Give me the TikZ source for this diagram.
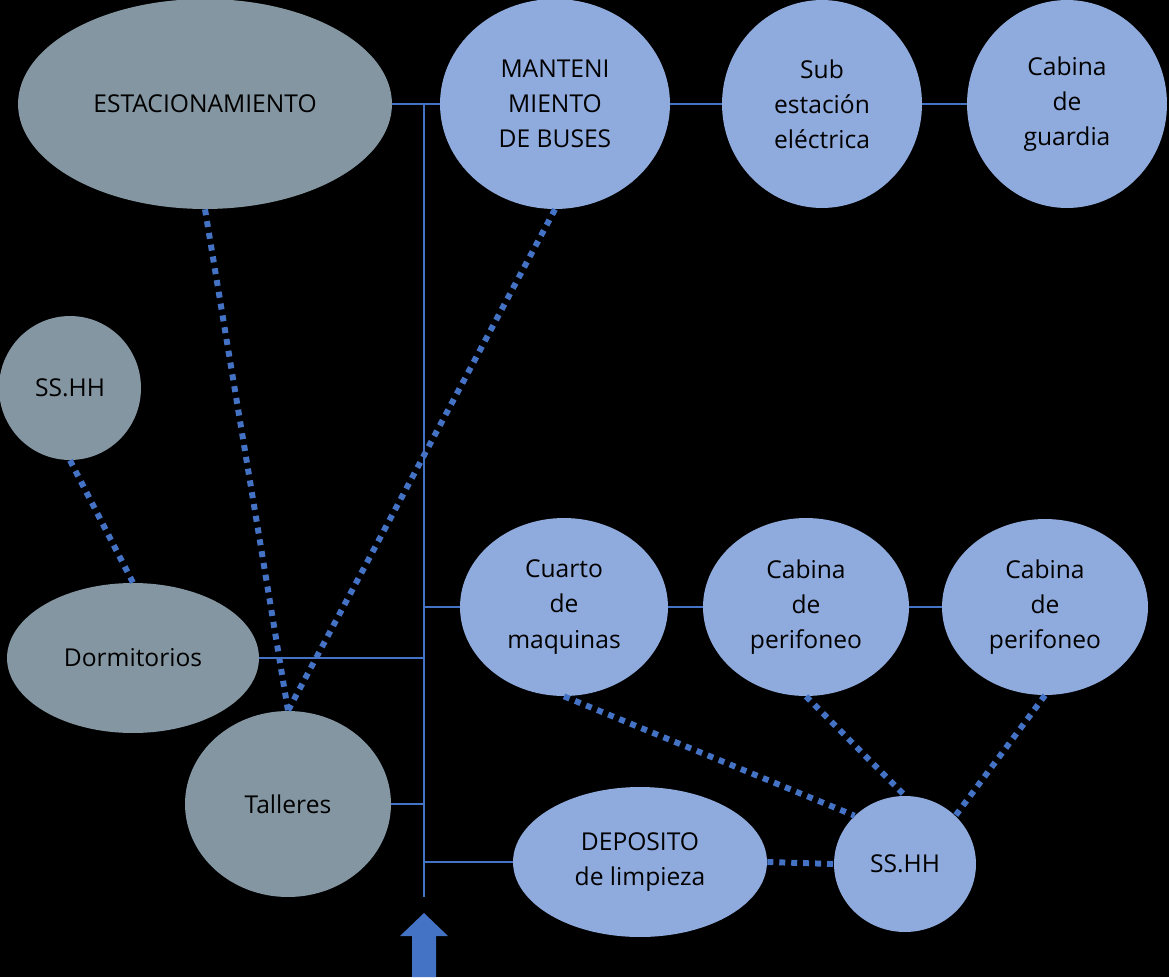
\documentclass[tikz,border=0pt]{standalone}
\usepackage{fontspec}
\setmainfont{Open Sans}
\usetikzlibrary{shapes.geometric}
\definecolor{zonegray}{RGB}{132,150,162}
\definecolor{zoneblue}{RGB}{143,170,220}
\definecolor{linkblue}{RGB}{68,114,196}

\begin{document}
\begin{tikzpicture}[x=0.02cm, y=-0.02cm]
    \tikzset{
        zone/.style={ellipse, inner sep=0pt, align=center, text=black, font=\fontsize{14}{20}\selectfont},
        grayzone/.style={zone, fill=zonegray},
        bluezone/.style={zone, fill=zoneblue},
        thinlink/.style={linkblue, line width=0.6pt},
        dotlink/.style={linkblue, line width=3.4pt, dash pattern=on 3.4pt off 3.4pt}
    }

    % fondo
    \fill[black] (0,0) rectangle (1169,977);
    \useasboundingbox (0,0) rectangle (1169,977);

    % --- 1. ZONA GRIS ---
    \node[grayzone, minimum width=7.48cm, minimum height=4.2cm] (estac) at (205,104) {ESTACIONAMIENTO};
    \node[grayzone, minimum width=2.84cm, minimum height=2.88cm] (sshhA) at (70,388) {SS.HH};
    \node[grayzone, minimum width=5.04cm, minimum height=3cm] (dorm) at (133,658) {Dormitorios};
    \node[grayzone, minimum width=4.12cm, minimum height=3.72cm] (talleres) at (288,804) {Talleres};

    % --- 2. ZONA AZUL ---
    \node[bluezone, minimum width=4.6cm, minimum height=4.2cm] (mant) at (555,104) {MANTENI\\MIENTO\\DE BUSES};
    \node[bluezone, minimum width=4cm, minimum height=4.16cm] (subest) at (822,104) {Sub\\estación\\eléctrica};
    \node[bluezone, minimum width=4cm, minimum height=4.16cm] (cabguard) at (1067,104) {Cabina\\de\\guardia};
    \node[bluezone, minimum width=4.16cm, minimum height=3.56cm] (cuarto) at (564,607) {Cuarto\\de\\maquinas};
    \node[bluezone, minimum width=4.12cm, minimum height=3.56cm] (perifA) at (806,607) {Cabina\\de\\perifoneo};
    \node[bluezone, minimum width=4.12cm, minimum height=3.52cm] (perifB) at (1045,607) {Cabina\\de\\perifoneo};
    \node[bluezone, minimum width=5.08cm, minimum height=3cm] (deposito) at (640,862) {DEPOSITO\\de limpieza};
    \node[bluezone, minimum width=2.84cm, minimum height=2.72cm] (sshhB) at (905,864) {SS.HH};

    % --- 3. CIRCULACION ---
    \coordinate (trunkTop) at (424,104);
    \coordinate (trunkBot) at (424,897);
    \draw[thinlink] (estac.east) -- (mant.west);
    \draw[thinlink] (trunkTop) -- (trunkBot);
    \draw[thinlink] (mant.east) -- (subest.west);
    \draw[thinlink] (subest.east) -- (cabguard.west);
    \draw[thinlink] (cuarto.west -| trunkTop) -- (cuarto.west);
    \draw[thinlink] (cuarto.east) -- (perifA.west);
    \draw[thinlink] (perifA.east) -- (perifB.west);
    \draw[thinlink] (dorm.east) -- (dorm.east -| trunkTop);
    \draw[thinlink] (talleres.east) -- (talleres.east -| trunkTop);
    \draw[thinlink] (deposito.west -| trunkTop) -- (deposito.west);

    % --- 4. RELACIONES ---
    \draw[dotlink] (estac.south) -- (talleres.north);
    \draw[dotlink] (mant.south) -- (talleres.north);
    \draw[dotlink] (sshhA.south) -- (dorm.north);
    \draw[dotlink] (cuarto.south) -- (sshhB.north west);
    \draw[dotlink] (perifA.south) -- (sshhB.north);
    \draw[dotlink] (perifB.south) -- (sshhB.north east);
    \draw[dotlink] (deposito.east) -- (sshhB.west);

    % ingreso
    \fill[linkblue] (424,913) -- (448,936) -- (436,936) -- (436,977) -- (412,977) -- (412,936) -- (400,936) -- cycle;

\end{tikzpicture}
\end{document}
